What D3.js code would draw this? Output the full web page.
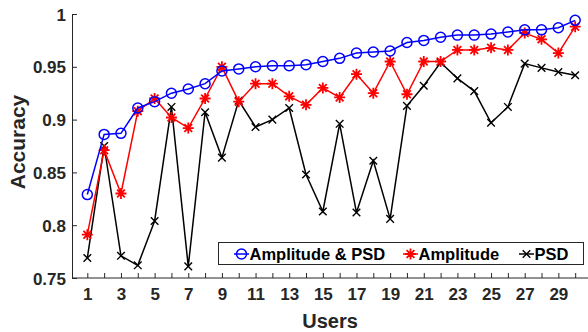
<!DOCTYPE html>
<html>
<head>
<meta charset="utf-8">
<script src="https://cdn.jsdelivr.net/npm/d3@7"></script>
<style>
  body { margin: 0; background: #fff; }
  text { font-family: "Liberation Sans", Arial, sans-serif; font-weight: bold; }
</style>
</head>
<body>
<div id="chart"></div>
<script>
// data
let users = d3.range(1, 31);
let ampPsd = [0.829, 0.886, 0.887, 0.911, 0.917, 0.925, 0.929, 0.934, 0.946, 0.948,
    0.950, 0.951, 0.951, 0.952, 0.955, 0.958, 0.963, 0.964, 0.965, 0.973,
    0.975, 0.978, 0.980, 0.980, 0.981, 0.983, 0.985, 0.985, 0.987, 0.994];
let amplitude = [0.791, 0.871, 0.830, 0.908, 0.920, 0.902, 0.892, 0.920, 0.950, 0.917,
    0.934, 0.934, 0.922, 0.914, 0.930, 0.921, 0.943, 0.925, 0.955, 0.924,
    0.955, 0.955, 0.966, 0.966, 0.968, 0.966, 0.982, 0.976, 0.963, 0.988];
let psd = [0.769, 0.875, 0.771, 0.762, 0.804, 0.912, 0.761, 0.907, 0.864, 0.918,
    0.893, 0.900, 0.911, 0.848, 0.813, 0.896, 0.812, 0.861, 0.806, 0.913,
    0.932, 0.954, 0.939, 0.927, 0.897, 0.912, 0.953, 0.949, 0.945, 0.942];
let yTicks = [0.75, 0.8, 0.85, 0.9, 0.95, 1];
let seriesNames = ["Amplitude & PSD", "Amplitude", "PSD"];

let width = 588, height = 332;
let plotLeft = 72, plotTop = 14, plotBottom = 278;

let svg = d3.select("#chart").append("svg")
    .attr("width", width)
    .attr("height", height);

let x = d3.scaleLinear().domain([0, 31]).range([70.5, 592]);
let y = d3.scaleLinear().domain([0.75, 1]).range([plotBottom, plotTop]);

// axes
let xAxis = svg.append("g")
    .attr("transform", "translate(0," + plotBottom + ")")
    .call(d3.axisBottom(x).tickValues(users).tickSizeInner(-5).tickSizeOuter(0)
        .tickPadding(10)
        .tickFormat(d => d % 2 === 1 ? d : ""));
xAxis.select(".domain").attr("d", "M" + plotLeft + ",0H" + width).attr("stroke", "#262626");

let yAxis = svg.append("g")
    .attr("transform", "translate(" + plotLeft + ",0)")
    .call(d3.axisLeft(y).tickValues(yTicks).tickSizeInner(-5).tickSizeOuter(0)
        .tickPadding(6)
        .tickFormat(d => d === 1 ? "1" : String(+d.toFixed(2))));
yAxis.select(".domain").attr("stroke", "#262626");

svg.selectAll(".tick line").attr("stroke", "#262626");
svg.selectAll(".tick text")
    .attr("fill", "#262626")
    .style("font-size", "17px");
yAxis.selectAll(".tick text").attr("dy", "0.36em");

// axis titles
svg.append("text")
    .attr("x", 330).attr("y", 328)
    .attr("text-anchor", "middle")
    .attr("fill", "#262626")
    .style("font-size", "20px")
    .text("Users");

svg.append("text")
    .attr("transform", "translate(25,142) rotate(-90)")
    .attr("text-anchor", "middle")
    .attr("fill", "#262626")
    .style("font-size", "21px")
    .text("Accuracy");

// markers
let star = r => {
    let p = "";
    for (let a = 0; a < 4; a++) {
        let t = a * Math.PI / 4;
        let dx = r * Math.cos(t), dy = r * Math.sin(t);
        p += "M" + (-dx) + "," + (-dy) + "L" + dx + "," + dy;
    }
    return p;
};
let cross = r => "M" + (-r) + "," + (-r) + "L" + r + "," + r + "M" + (-r) + "," + r + "L" + r + "," + (-r);

let series = [
    {name: seriesNames[0], values: ampPsd, color: "#0000ff", marker: "circle"},
    {name: seriesNames[1], values: amplitude, color: "#ff0000", marker: "star"},
    {name: seriesNames[2], values: psd, color: "#000000", marker: "cross"}
];

let line = d3.line()
    .x((d, i) => x(users[i]))
    .y(d => y(d));

function drawMarker(g, s, cx, cy) {
    if (s.marker === "circle") {
        g.append("circle").attr("cx", cx).attr("cy", cy).attr("r", 5)
            .attr("fill", "none").attr("stroke", s.color).attr("stroke-width", 1.5);
    } else if (s.marker === "star") {
        g.append("path").attr("d", star(5.5))
            .attr("transform", "translate(" + cx + "," + cy + ")")
            .attr("stroke", s.color).attr("stroke-width", 1.8);
    } else {
        g.append("path").attr("d", cross(3.8))
            .attr("transform", "translate(" + cx + "," + cy + ")")
            .attr("stroke", s.color).attr("stroke-width", 1.4);
    }
}

series.slice().reverse().forEach(s => {
    let g = svg.append("g");
    g.append("path")
        .datum(s.values)
        .attr("d", line)
        .attr("fill", "none")
        .attr("stroke", s.color)
        .attr("stroke-width", 1.5);
    s.values.forEach((v, i) => drawMarker(g, s, x(users[i]), y(v)));
});

// legend
let legend = svg.append("g");
legend.append("rect")
    .attr("x", 218.5).attr("y", 242.5)
    .attr("width", 365).attr("height", 22)
    .attr("fill", "#fff")
    .attr("stroke", "#262626")
    .attr("stroke-width", 1);

let legendX = [234, 403, 519];
series.forEach((s, i) => {
    let lx = legendX[i], ly = 254;
    legend.append("line")
        .attr("x1", lx).attr("x2", lx + 15)
        .attr("y1", ly).attr("y2", ly)
        .attr("stroke", s.color).attr("stroke-width", 1.5);
    drawMarker(legend, s, lx + 7.5, ly);
    legend.append("text")
        .attr("x", lx + 15.5).attr("y", ly + 6)
        .style("font-size", "16.5px")
        .attr("fill", "#000")
        .text(s.name);
});
</script>
</body>
</html>
